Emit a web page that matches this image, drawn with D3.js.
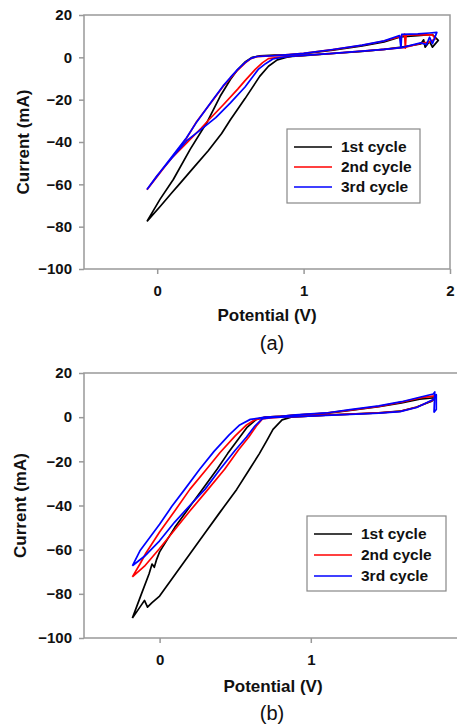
<!DOCTYPE html>
<html>
<head>
<meta charset="utf-8">
<title>CV cycles</title>
<script src="https://d3js.org/d3.v7.min.js"></script>
<style>
  body { margin: 0; background: #fff; }
  svg text { font-family: "Liberation Sans", Arial, sans-serif; fill: #111; }
  .tick text { font-size: 15px; font-weight: bold; }
  .tick line { stroke: #999; stroke-width: 1.5; }
</style>
</head>
<body>
<div id="chart"></div>
<script>
// tick values and legend labels
const xTicks = [0, 1, 2];
const yTicks = [20, 0, -20, -40, -60, -80, -100];
const cycleNames = ['1st cycle', '2nd cycle', '3rd cycle'];

// panel (a) loops, [potential V, current mA]
const aCycle1 = [[-0.07,-77.5],[0.02,-67],[0.11,-57.7],[0.225,-43.5],[0.34,-30.7],[0.43,-18.4],[0.5,-10.5],[0.55,-5.8],[0.6,-2.2],[0.65,0],[0.7,0.7],[0.8,1.0],[0.9,1.2],
  [1.0,1.7],[1.2,3.4],[1.4,5.4],[1.55,7.3],[1.66,9.6],[1.78,10.3],[1.88,10.8],[1.92,8.0],[1.88,4.8],[1.86,7.5],[1.83,4.8],[1.82,8.3],[1.8,6.3],
  [1.67,4.8],[1.55,3.8],[1.4,2.8],[1.2,1.8],[1.0,0.8],[0.92,0.4],[0.88,0],[0.82,-1.2],[0.76,-4.2],[0.7,-9],[0.6,-19.5],[0.5,-29.5],[0.44,-36],
  [0.35,-44],[0.25,-52],[0.15,-60],[0.1,-64],[0.02,-70.5],[-0.07,-77.5]];
const aCycle2 = [[-0.07,-62.6],[0.0,-56.3],[0.1,-47.3],[0.2,-38.3],[0.27,-30.3],[0.38,-20.3],[0.45,-13.8],[0.5,-9.8],[0.55,-6],[0.6,-2.7],[0.64,-0.6],[0.68,0.3],[0.8,0.8],[0.9,1.3],
  [1.0,1.9],[1.2,3.6],[1.4,5.7],[1.55,7.7],[1.68,10.2],[1.69,11.0],[1.695,4.3],[1.7,10.6],[1.8,10.6],[1.88,10.6],[1.9,8.8],[1.86,7.2],[1.8,6.6],
  [1.69,4.7],[1.55,3.8],[1.4,2.9],[1.2,1.9],[1.0,0.9],[0.9,0.4],[0.83,0],[0.76,-0.6],[0.72,-2.5],[0.67,-5.7],[0.6,-11],[0.55,-15],[0.45,-22.5],
  [0.36,-29],[0.3,-33.5],[0.2,-40.5],[0.1,-47.5],[0.0,-56],[-0.07,-62.6]];
const aCycle3 = [[-0.07,-62.4],[0.0,-56],[0.1,-47],[0.2,-38],[0.27,-30.5],[0.38,-20],[0.45,-13.5],[0.5,-9.5],[0.55,-5.7],[0.6,-2.5],[0.64,-0.5],[0.68,0.4],[0.8,0.8],[0.9,1.3],
  [1.0,1.9],[1.2,3.7],[1.4,5.8],[1.55,7.8],[1.655,10.3],[1.665,4.4],[1.67,10.8],[1.78,11.1],[1.86,11.5],[1.91,11.8],[1.88,6.5],[1.86,9.5],[1.84,6],[1.8,6.8],
  [1.67,4.6],[1.55,3.8],[1.4,2.9],[1.2,1.9],[1.0,0.9],[0.9,0.4],[0.85,0],[0.79,-0.8],[0.74,-3],[0.69,-5.7],[0.6,-14],[0.5,-21.5],[0.4,-28.5],
  [0.3,-34],[0.2,-39.5],[0.1,-47.5],[0.0,-55.8],[-0.07,-62.4]];

// panel (b) loops
const bCycle1 = [[-0.18,-91],[-0.12,-80],[-0.07,-71],[-0.05,-66.5],[-0.035,-68],[-0.02,-64.5],[0.0,-61],[0.1,-50],[0.2,-40.5],[0.28,-33],[0.38,-23.6],[0.45,-16.5],[0.52,-10],[0.58,-4.5],[0.64,-1],[0.7,0],[0.8,0.4],[0.9,0.9],
  [1.1,1.7],[1.26,3.1],[1.45,4.8],[1.6,6.5],[1.72,8.2],[1.82,8.8],[1.8,7.2],[1.7,4.6],[1.59,2.7],[1.45,1.9],[1.26,1.4],[1.1,0.9],[0.95,0.4],
  [0.87,0],[0.81,-1.2],[0.75,-5.5],[0.71,-10.5],[0.66,-16.5],[0.6,-23],[0.51,-32.7],[0.4,-43],[0.3,-52.5],[0.2,-62],[0.1,-71.5],[0.0,-81],
  [-0.05,-84],[-0.08,-86],[-0.1,-83],[-0.12,-85],[-0.18,-91]];
const bCycle2 = [[-0.18,-72.3],[-0.13,-66.5],[-0.09,-61.5],[0.0,-52],[0.1,-42.5],[0.2,-32.7],[0.31,-23.6],[0.4,-16],[0.5,-8.5],[0.57,-3.8],[0.63,-1.2],[0.7,0],[0.8,0.4],[0.9,0.9],
  [1.1,1.8],[1.26,3.2],[1.45,4.9],[1.6,6.8],[1.72,8.7],[1.82,9.6],[1.81,7.8],[1.7,4.5],[1.59,2.6],[1.45,1.9],[1.26,1.4],[1.1,0.9],[0.95,0.4],
  [0.8,0],[0.72,-0.4],[0.68,-0.8],[0.64,-4],[0.59,-9],[0.52,-15],[0.43,-23.6],[0.32,-32.7],[0.2,-42.5],[0.1,-51],[0.0,-59.5],[-0.1,-67.5],[-0.18,-72.3]];
const bCycle3 = [[-0.18,-67.3],[-0.13,-60.5],[0.0,-48.5],[0.08,-40.5],[0.166,-32.7],[0.265,-23.6],[0.36,-15.5],[0.46,-8],[0.53,-3.5],[0.6,-1],[0.7,0],[0.8,0.4],[0.9,1.0],
  [1.1,1.9],[1.26,3.4],[1.45,5.1],[1.6,7.0],[1.72,9.0],[1.81,10.5],[1.82,11.4],[1.815,2.3],[1.83,3.5],[1.83,10.2],[1.81,8.0],[1.7,4.4],[1.59,2.5],
  [1.45,1.8],[1.26,1.3],[1.1,0.8],[0.95,0.4],[0.8,0],[0.75,-0.1],[0.68,-0.7],[0.63,-4],[0.575,-9],[0.5,-15],[0.4,-23.6],[0.3,-32.7],[0.2,-40],
  [0.1,-47.5],[0.0,-56],[-0.1,-63],[-0.18,-67.3]];

const colors = ['#000000', '#ff0000', '#0000ff'];
const frameColor = '#999';

const svg = d3.select('#chart').append('svg')
    .attr('width', 457).attr('height', 724);

// layout of the two panels; (b) runs past the right edge of the page, so its "2" is not shown
const panels = [
    {name: '(a)', cycles: [aCycle1, aCycle2, aCycle3], left: 84, right: 450, top: 15, bottom: 269,
     xLabels: xTicks, yTitleX: 23, xTitleX: 267, xTitleY: 321, nameX: 272, nameY: 350,
     legend: {x: 287, y: 129, w: 133, h: 74, row: 20}},
    {name: '(b)', cycles: [bCycle1, bCycle2, bCycle3], left: 84, right: 462, top: 373, bottom: 638,
     xLabels: xTicks.slice(0, 2), yTitleX: 20, xTitleX: 273, xTitleY: 692, nameX: 272, nameY: 720,
     legend: {x: 307, y: 516, w: 139, h: 75, row: 21}}
];

panels.forEach(p => {
    const x = d3.scaleLinear().domain([-0.5, 2]).range([p.left, p.right]);
    const y = d3.scaleLinear().domain([-100, 20]).range([p.bottom, p.top]);
    const g = svg.append('g');

    // curves
    const line = d3.line().x(d => x(d[0])).y(d => y(d[1]));
    p.cycles.forEach((c, i) => {
        g.append('path').datum(c)
            .attr('d', line)
            .attr('fill', 'none')
            .attr('stroke', colors[i])
            .attr('stroke-width', 1.7)
            .attr('stroke-linejoin', 'round');
    });

    g.append('rect')
        .attr('x', p.left).attr('y', p.top)
        .attr('width', p.right - p.left).attr('height', p.bottom - p.top)
        .attr('fill', 'none').attr('stroke', frameColor).attr('stroke-width', 1.5);

    const yAxis = g.append('g').attr('transform', `translate(${p.left},0)`)
        .call(d3.axisLeft(y).tickValues(yTicks).tickSize(5).tickPadding(7).tickSizeOuter(0));
    yAxis.select('.domain').remove();

    const xAxis = g.append('g').attr('transform', `translate(0,${p.bottom})`)
        .call(d3.axisBottom(x).tickValues(xTicks)
            .tickFormat(d => p.xLabels.includes(d) ? d3.format('d')(d) : '')
            .tickSize(5).tickPadding(11).tickSizeOuter(0));
    xAxis.select('.domain').remove();

    // titles
    g.append('text')
        .attr('transform', `translate(${p.yTitleX},${(p.top + p.bottom) / 2}) rotate(-90)`)
        .attr('text-anchor', 'middle').attr('dy', '0.35em')
        .style('font-size', '17px').style('font-weight', 'bold')
        .text('Current (mA)');
    g.append('text')
        .attr('x', p.xTitleX).attr('y', p.xTitleY)
        .attr('text-anchor', 'middle')
        .style('font-size', '17px').style('font-weight', 'bold')
        .text('Potential (V)');
    g.append('text')
        .attr('x', p.nameX).attr('y', p.nameY)
        .attr('text-anchor', 'middle')
        .style('font-size', '20px')
        .text(p.name);

    // legend
    const L = p.legend;
    const lg = g.append('g');
    lg.append('rect')
        .attr('x', L.x).attr('y', L.y).attr('width', L.w).attr('height', L.h)
        .attr('fill', '#fff').attr('stroke', '#888').attr('stroke-width', 1.2);
    cycleNames.forEach((name, i) => {
        const cy = L.y + 18 + i * L.row;
        lg.append('line')
            .attr('x1', L.x + 7).attr('x2', L.x + 45)
            .attr('y1', cy).attr('y2', cy)
            .attr('stroke', colors[i]).attr('stroke-width', 1.6);
        lg.append('text')
            .attr('x', L.x + 54).attr('y', cy).attr('dy', '0.35em')
            .style('font-size', '15.5px').style('font-weight', 'bold')
            .text(name);
    });
});
</script>
</body>
</html>
